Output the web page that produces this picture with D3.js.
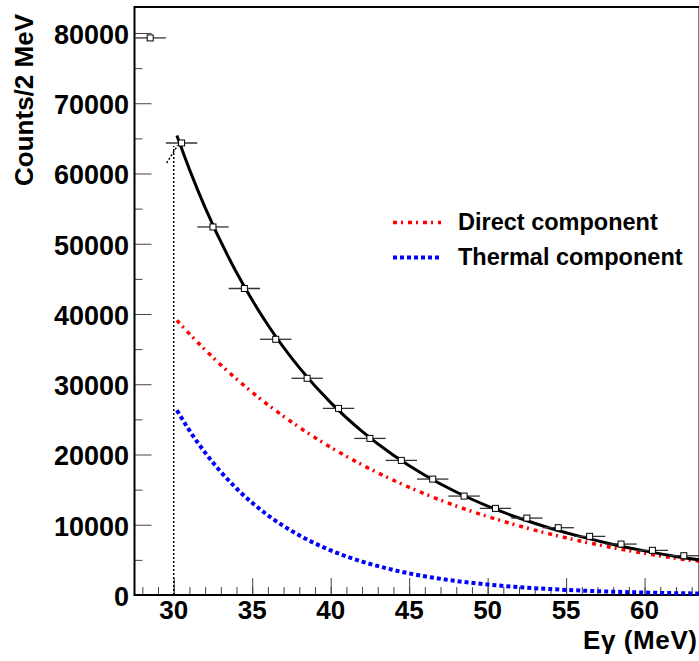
<!DOCTYPE html>
<html>
<head>
<meta charset="utf-8">
<script src="https://cdn.jsdelivr.net/npm/d3@7"></script>
<style>
  body{margin:0;background:#fff;}
  text{font-family:"Liberation Sans",Arial,Helvetica,sans-serif;font-weight:bold;fill:#000;}
</style>
</head>
<body>
<div id="chart-container"></div>
<script>
// DADOS
const binCenters = [28.5,30.5,32.5,34.5,36.5,38.5,40.5,42.5,44.5,46.5,48.5,50.5,52.5,54.5,56.5,58.5,60.5,62.5];
const counts = [79300,64340,52390,43630,36400,30850,26560,22290,19160,16500,14080,12330,10950,9580,8350,7250,6360,5590];
const binHalfWidth = 1;

const fitEnergy = [30.2,31,32,34,36,38,40,42,44,46,48,50,52,54,56,58,60,62,63.5];
const fitTotal = [65400,60590,55150,45900,38440,32360,27380,23290,19890,17050,14660,12660,10960,9510,8270,7200,6280,5490,5000];
const fitDirect = [39100,37170,34890,30740,27090,23870,21030,18530,16330,14390,12670,11170,9840,8670,7640,6730,5930,5230,4790];
const fitThermal = [26300,23420,20260,15160,11350,8490,6350,4760,3560,2660,1990,1490,1120,840,630,470,350,260,210];

const xTicks = [30,35,40,45,50,55,60];
const yTicks = [0,10000,20000,30000,40000,50000,60000,70000,80000];
const legendLabels = ["Direct component","Thermal component"];
const legendColors = ["#ff0000","#0000ff"];

const width = 699, height = 661;
const x0 = 134.5, x1 = 699.5, yTop = 7, yBottom = 595;

const svg = d3.select('#chart-container').append('svg')
  .attr('width', width)
  .attr('height', height);

const xScale = d3.scaleLinear().domain([27.5,63.5]).range([x0,x1]);
const yScale = d3.scaleLinear().domain([0,83700]).range([yBottom,yTop]);

// EIXO X (ticks para dentro)
svg.append('g')
  .attr('transform', `translate(0,${yBottom})`)
  .call(d3.axisTop(xScale).tickValues(d3.range(28,64,1)).tickSize(8).tickFormat(''))
  .call(g => g.select('.domain').remove())
  .call(g => g.selectAll('line').attr('stroke','#444'));
svg.append('g')
  .attr('transform', `translate(0,${yBottom})`)
  .call(d3.axisTop(xScale).tickValues(xTicks).tickSize(17).tickFormat(''))
  .call(g => g.select('.domain').remove())
  .call(g => g.selectAll('line').attr('stroke','#444'));

// EIXO Y
svg.append('g')
  .attr('transform', `translate(${x0},0)`)
  .call(d3.axisRight(yScale).tickValues(d3.range(5000,83700,10000)).tickSize(8).tickFormat(''))
  .call(g => g.select('.domain').remove())
  .call(g => g.selectAll('line').attr('stroke','#444'));
svg.append('g')
  .attr('transform', `translate(${x0},0)`)
  .call(d3.axisRight(yScale).tickValues(yTicks).tickSize(17).tickFormat(''))
  .call(g => g.select('.domain').remove())
  .call(g => g.selectAll('line').attr('stroke','#444'));

// MOLDURA
svg.append('rect')
  .attr('x', x0).attr('y', yTop)
  .attr('width', x1 - x0).attr('height', yBottom - yTop)
  .attr('fill','none').attr('stroke','#000').attr('stroke-width',2);

// ROTULOS DOS TICKS
svg.selectAll('.xlab')
  .data(xTicks).enter()
  .append('text')
  .attr('x', d => xScale(d))
  .attr('y', 619)
  .attr('text-anchor','middle')
  .style('font-size','26px')
  .text(d => d);

svg.selectAll('.ylab')
  .data(yTicks).enter()
  .append('text')
  .attr('x', 129)
  .attr('y', d => yScale(d) + 11)
  .attr('text-anchor','end')
  .style('font-size','27px')
  .text(d => d);

// TITULOS
svg.append('text')
  .attr('transform','translate(33,14) rotate(-90)')
  .attr('text-anchor','end')
  .style('font-size','26px')
  .text('Counts/2 MeV');

svg.append('text')
  .attr('x', 583).attr('y', 649)
  .attr('textLength', 114)
  .attr('lengthAdjust','spacing')
  .style('font-size','26px')
  .text('E\u03B3 (MeV)');

// LINHA PONTILHADA NO INICIO DO AJUSTE
svg.append('line')
  .attr('x1', xScale(30)).attr('x2', xScale(30))
  .attr('y1', yBottom).attr('y2', yScale(counts[1]) + 3)
  .attr('stroke','#000').attr('stroke-width',1.5).attr('stroke-dasharray','2,2');
svg.append('line')
  .attr('x1', xScale(29.55)).attr('x2', xScale(30.25))
  .attr('y1', yScale(61500)).attr('y2', yScale(64000))
  .attr('stroke','#000').attr('stroke-width',1.5).attr('stroke-dasharray','2,2');

// CURVAS DO AJUSTE
const line = (vals) => d3.line()
  .x((d,i) => xScale(fitEnergy[i]))
  .y(d => yScale(d))
  .curve(d3.curveMonotoneX)(vals);

svg.append('path')
  .attr('d', line(fitThermal))
  .attr('fill','none').attr('stroke','#0000ff').attr('stroke-width',4)
  .attr('stroke-dasharray','4,3');

svg.append('path')
  .attr('d', line(fitDirect))
  .attr('fill','none').attr('stroke','#ff0000').attr('stroke-width',3.5)
  .attr('stroke-dasharray','4,4,2,5');

// PONTOS COM BARRAS DE ERRO
const pts = svg.append('g');
pts.selectAll('.hbar')
  .data(binCenters).enter()
  .append('line')
  .attr('x1', d => xScale(d - binHalfWidth))
  .attr('x2', d => Math.min(xScale(d + binHalfWidth), x1))
  .attr('y1', (d,i) => yScale(counts[i]))
  .attr('y2', (d,i) => yScale(counts[i]))
  .attr('stroke','#333').attr('stroke-width',1.3);
pts.selectAll('.vbar')
  .data(binCenters).enter()
  .append('line')
  .attr('x1', d => xScale(d))
  .attr('x2', d => xScale(d))
  .attr('y1', (d,i) => yScale(counts[i] + Math.sqrt(counts[i])))
  .attr('y2', (d,i) => yScale(counts[i] - Math.sqrt(counts[i])))
  .attr('stroke','#333').attr('stroke-width',1.3);

svg.append('path')
  .attr('d', line(fitTotal))
  .attr('fill','none').attr('stroke','#000').attr('stroke-width',3);

pts.selectAll('.marker')
  .data(binCenters).enter()
  .append('rect')
  .attr('x', d => xScale(d) - 3)
  .attr('y', (d,i) => yScale(counts[i]) - 3)
  .attr('width',6).attr('height',6)
  .attr('fill','#fff').attr('stroke','#000').attr('stroke-width',1);
svg.node().appendChild(pts.node());

// LEGENDA
const legend = svg.append('g');
legendLabels.forEach((lab,i) => {
  const ly = 222.5 + i*35;
  legend.append('line')
    .attr('x1',393).attr('x2',441)
    .attr('y1',ly).attr('y2',ly)
    .attr('stroke',legendColors[i])
    .attr('stroke-width', i === 0 ? 3.5 : 4)
    .attr('stroke-dasharray', i === 0 ? '4,4,2,5' : '4,3');
  legend.append('text')
    .attr('x',458).attr('y', ly + 7.5)
    .style('font-size','23.5px')
    .text(lab);
});
</script>
</body>
</html>
